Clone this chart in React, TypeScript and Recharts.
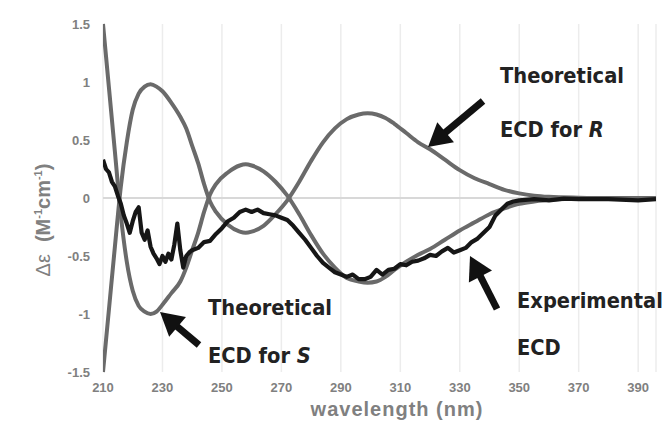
import React from "react";
import { LineChart, Line, XAxis, YAxis, CartesianGrid, ReferenceLine } from "recharts";

// wavelengths (nm) and Δε values
const theoWl = [210, 212, 214, 216, 218, 220, 222, 224, 226, 228, 230, 233, 236, 238, 240, 242, 244, 246, 248, 252, 256, 258, 260, 264, 268, 272, 276, 280, 284, 288, 292, 296, 299, 302, 305, 308, 312, 316, 320, 325, 330, 335, 340, 345, 350, 355, 360, 370, 380, 396];
const theoR = [-1.5, -0.96, -0.42, 0.1, 0.48, 0.76, 0.9, 0.96, 0.98, 0.96, 0.92, 0.82, 0.7, 0.6, 0.45, 0.3, 0.12, -0.03, -0.12, -0.23, -0.29, -0.3, -0.29, -0.24, -0.14, -0.02, 0.14, 0.32, 0.48, 0.6, 0.68, 0.72, 0.73, 0.72, 0.69, 0.64, 0.56, 0.48, 0.42, 0.33, 0.24, 0.17, 0.12, 0.07, 0.04, 0.02, 0.01, 0.003, 0, 0];
const theoS = [1.5, 0.95, 0.4, -0.15, -0.55, -0.8, -0.93, -0.98, -1.0, -0.98, -0.92, -0.82, -0.72, -0.6, -0.45, -0.3, -0.12, 0.03, 0.12, 0.22, 0.28, 0.29, 0.28, 0.23, 0.14, 0.02, -0.14, -0.32, -0.48, -0.6, -0.69, -0.72, -0.73, -0.72, -0.68, -0.62, -0.55, -0.49, -0.44, -0.36, -0.28, -0.21, -0.14, -0.09, -0.05, -0.03, -0.015, -0.005, 0, 0];

const expWl = [210, 211, 212, 213, 214, 215, 216, 217, 218, 219, 220, 221, 222, 223, 224, 225, 226, 227, 228, 229, 230, 231, 232, 233, 234, 235, 236, 237, 238, 239, 240, 242, 244, 246, 248, 250, 252, 254, 256, 258, 260, 262, 264, 266, 268, 270, 272, 274, 276, 278, 280, 282, 284, 286, 288, 290, 292, 294, 296, 298, 300, 302, 304, 306, 308, 310, 312, 314, 316, 318, 320, 322, 324, 326, 328, 330, 332, 334, 336, 338, 340, 342, 344, 346, 348, 350, 355, 360, 365, 370, 380, 390, 396];
const expVal = [0.33, 0.25, 0.22, 0.14, 0.1, 0.02, -0.05, -0.15, -0.22, -0.3, -0.2, -0.12, -0.08, -0.3, -0.36, -0.28, -0.42, -0.48, -0.52, -0.57, -0.5, -0.55, -0.48, -0.53, -0.4, -0.22, -0.45, -0.6, -0.5, -0.47, -0.45, -0.43, -0.38, -0.37, -0.31, -0.26, -0.2, -0.17, -0.12, -0.1, -0.12, -0.1, -0.13, -0.14, -0.15, -0.17, -0.19, -0.24, -0.3, -0.36, -0.43, -0.5, -0.56, -0.6, -0.64, -0.66, -0.68, -0.66, -0.7, -0.7, -0.68, -0.62, -0.66, -0.62, -0.61, -0.57, -0.58, -0.55, -0.54, -0.52, -0.49, -0.5, -0.46, -0.43, -0.47, -0.45, -0.43, -0.38, -0.35, -0.3, -0.25, -0.15, -0.1, -0.05, -0.03, -0.02, -0.01, -0.02, -0.005, -0.01, -0.01, -0.02, -0.01];

const xTicks = [210, 230, 250, 270, 290, 310, 330, 350, 370, 390];
const yTicks = [-1.5, -1, -0.5, 0, 0.5, 1, 1.5];

const rData = theoWl.map((w, i) => ({ wl: w, v: theoR[i] }));
const sData = theoWl.map((w, i) => ({ wl: w, v: theoS[i] }));
const expData = expWl.map((w, i) => ({ wl: w, v: expVal[i] }));

const tickStyle = { fill: "#808080", fontSize: 13, fontWeight: 700, fontFamily: "Liberation Sans, Arial, sans-serif" };
const noteStyle: React.CSSProperties = { fontFamily: "DejaVu Sans, Verdana, sans-serif", fontWeight: 700, fontSize: 19.5, fill: "#222" };

function Note({ x, y, children }: { x: number; y: number; children: React.ReactNode }) {
  // text slightly stretched vertically, like the figure
  return (
    <g transform={`translate(${x},${y}) scale(1,1.12)`}>
      <text x={0} y={0} style={noteStyle}>{children}</text>
    </g>
  );
}

function Arrow({ x1, y1, x2, y2 }: { x1: number; y1: number; x2: number; y2: number }) {
  // tail (x1,y1) -> tip (x2,y2)
  const dx = x2 - x1, dy = y2 - y1;
  const len = Math.sqrt(dx * dx + dy * dy);
  const ux = dx / len, uy = dy / len;
  const nx = -uy, ny = ux;
  const headLen = 23, headW = 13;
  const bx = x2 - ux * headLen, by = y2 - uy * headLen;
  return (
    <g fill="#111" stroke="none">
      <line x1={x1} y1={y1} x2={bx + ux * 2} y2={by + uy * 2} stroke="#111" strokeWidth={7} />
      <polygon points={`${x2},${y2} ${bx + nx * headW},${by + ny * headW} ${bx - nx * headW},${by - ny * headW}`} />
    </g>
  );
}

export default function App() {
  return (
    <div style={{ position: "absolute", left: 0, top: 0, width: 665, height: 432, background: "#fff" }}>
      <LineChart width={665} height={432} margin={{ top: 24, right: 9, left: 48, bottom: 30 }}>
        <CartesianGrid horizontal={false} stroke="#ececec" strokeWidth={1.5} />
        <ReferenceLine y={0} stroke="#d8d8d8" strokeWidth={2} />
        <XAxis
          type="number"
          dataKey="wl"
          domain={[210, 396]}
          ticks={xTicks}
          allowDataOverflow
          axisLine={false}
          tickLine={false}
          tickMargin={5}
          tick={tickStyle}
          height={30}
        />
        <YAxis
          type="number"
          domain={[-1.5, 1.5]}
          ticks={yTicks}
          axisLine={false}
          tickLine={false}
          tickMargin={7}
          tick={tickStyle}
          width={55}
        />
        <Line data={rData} dataKey="v" type="monotone" stroke="#6a6a6a" strokeWidth={4} dot={false} isAnimationActive={false} />
        <Line data={sData} dataKey="v" type="monotone" stroke="#6a6a6a" strokeWidth={4} dot={false} isAnimationActive={false} />
        <Line data={expData} dataKey="v" type="linear" stroke="#161616" strokeWidth={4.2} strokeLinejoin="round" dot={false} isAnimationActive={false} />
      </LineChart>
      <svg width={665} height={432} style={{ position: "absolute", left: 0, top: 0, pointerEvents: "none" }}>
        <text
          transform="translate(50,220) rotate(-90)"
          textAnchor="middle"
          style={{ fontFamily: "Liberation Sans, Arial, sans-serif", fontWeight: 700, fontSize: 20, fill: "#808080" }}
        >
          <tspan fontWeight={400}>Δε</tspan>
          <tspan dx={12}>(M</tspan>
          <tspan dy={-8} fontSize={11}>-1</tspan>
          <tspan dy={8}>cm</tspan>
          <tspan dy={-8} fontSize={11}>-1</tspan>
          <tspan dy={8}>)</tspan>
        </text>
        <text x={397} y={416} textAnchor="middle" letterSpacing={1} style={{ fontFamily: "Liberation Sans, Arial, sans-serif", fontWeight: 700, fontSize: 20, fill: "#808080" }}>
          wavelength (nm)
        </text>

        <Note x={500} y={83}>Theoretical</Note>
        <Note x={500} y={137}>
          ECD for <tspan fontStyle="italic">R</tspan>
        </Note>
        <Arrow x1={483} y1={101} x2={428} y2={147} />

        <Note x={208} y={315}>Theoretical</Note>
        <Note x={208} y={363}>
          ECD for <tspan fontStyle="italic">S</tspan>
        </Note>
        <Arrow x1={199} y1={345} x2={160} y2={312} />

        <Note x={517} y={308}>Experimental</Note>
        <Note x={517} y={355}>ECD</Note>
        <Arrow x1={497} y1={309} x2={470} y2={256} />
      </svg>
    </div>
  );
}
